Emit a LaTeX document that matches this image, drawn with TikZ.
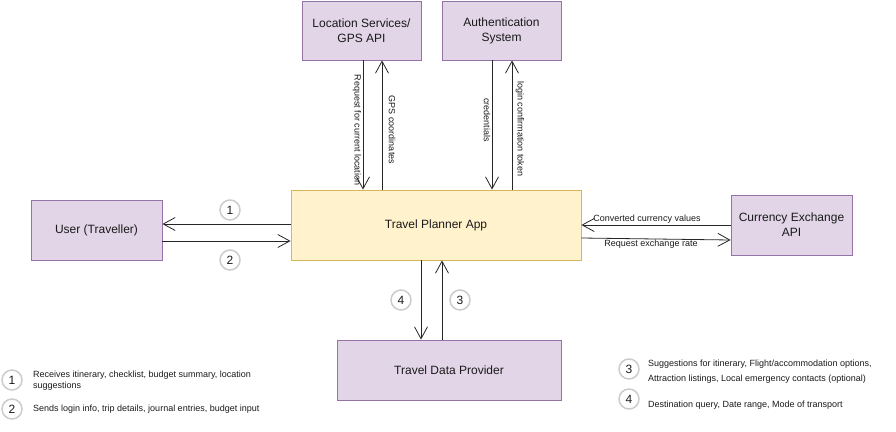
\documentclass[tikz,border=0pt]{standalone}
\usepackage{fontspec}
\setmainfont{Liberation Sans}
\usetikzlibrary{arrows.meta}
\definecolor{pfill}{HTML}{E1D5E7}
\definecolor{pline}{HTML}{9673A6}
\definecolor{yfill}{HTML}{FFF2CC}
\definecolor{yline}{HTML}{D6B656}
\definecolor{cline}{HTML}{CCCCCC}
\definecolor{txt}{HTML}{1A1A1A}
\tikzset{
  pbox/.style={draw=pline, fill=pfill, line width=0.8pt, align=center, font=\fontsize{12}{15}\selectfont, text=txt, inner sep=0pt},
  ybox/.style={draw=yline, fill=yfill, line width=0.8pt, align=center, font=\fontsize{12}{15}\selectfont, text=txt, inner sep=0pt},
  arr/.style={draw=black!85, line width=0.8pt, -{Straight Barb[length=12pt,width=13pt,line width=0.8pt]}},
  lbl/.style={font=\fontsize{9}{11}\selectfont, text=txt, inner sep=1pt},
  num/.style={circle, draw=cline, line width=1.5pt, fill=white, minimum size=20pt, inner sep=0pt, font=\fontsize{12}{12}\selectfont, text=txt},
  legtext/.style={font=\fontsize{9}{11}\selectfont, text=txt, align=left, anchor=west, inner sep=0pt}
}
\begin{document}
\begin{tikzpicture}[x=1pt,y=-1pt]
\useasboundingbox (0,0) rectangle (896,431);
\node[pbox, minimum width=119pt, minimum height=59pt] (loc) at (361.5,30.5) {Location Services/\\GPS API};
\node[pbox, minimum width=119pt, minimum height=59pt] (auth) at (501.5,30.5) {Authentication\\System};
\node[ybox, minimum width=290pt, minimum height=70pt] (app) at (436,225) {Travel Planner App};
\node[pbox, minimum width=131pt, minimum height=60pt] (user) at (96.5,230) {User (Traveller)};
\node[pbox, minimum width=121pt, minimum height=60pt] (cur) at (791.5,225) {Currency Exchange\\API};
\node[pbox, minimum width=224pt, minimum height=60pt] (tdp) at (449,370) {Travel Data Provider};

% location
\draw[arr] ([xshift=1.5pt]loc.south) -- ([xshift=-73pt]app.north);
\draw[arr] ([xshift=-54pt]app.north) -- ([xshift=20.5pt]loc.south);
\node[lbl, rotate=-90] (l1) at (357,130) {Request for current location};
\node[lbl, rotate=-90] (l2) at (392,130) {GPS coordinates};
% auth
\draw[arr] ([xshift=-9.5pt]auth.south) -- ([xshift=56pt]app.north);
\draw[arr] ([xshift=76pt]app.north) -- ([xshift=10.5pt]auth.south);
\node[lbl, rotate=-90] (l3) at (487,120) {credentials};
\node[lbl, rotate=-90] (l4) at (520,129) {login confirmation token};
% user
\draw[arr] ([yshift=1pt]app.west) -- ([yshift=6pt]user.east);
\draw[arr] ([yshift=-11pt]user.east) -- ([yshift=-16pt]app.west);
\node[num] (n1) at (230,210) {1};
\node[num] (n2) at (230,260) {2};
% currency
\draw[arr] (cur.west) -- (app.east);
\draw[arr] ([yshift=-13pt]app.east) -- ([yshift=-15pt]cur.west);
\node[lbl] (l5) at (647,219) {Converted currency values};
\node[lbl] (l6) at (651,244) {Request exchange rate};
% data provider
\draw[arr] ([xshift=-15pt]app.south) -- ([xshift=-28pt]tdp.north);
\draw[arr] ([xshift=-7pt]tdp.north) -- ([xshift=6pt]app.south);
\node[num] (n4) at (401,300) {4};
\node[num] (n3) at (460,300) {3};

% legend
\node[num] (g1) at (12,380) {1};
\node[legtext] (t1) at (33,381) {Receives itinerary, checklist, budget summary, location\\suggestions};
\node[num] (g2) at (12,409) {2};
\node[legtext] (t2) at (33,409) {Sends login info, trip details, journal entries, budget input};
\node[num] (g3) at (629,369) {3};
\node[legtext, font=\fontsize{9}{15}\selectfont] (t3) at (648,371.5) {Suggestions for itinerary, Flight/accommodation options,\\Attraction listings, Local emergency contacts (optional)};
\node[num] (g4) at (629,399) {4};
\node[legtext] (t4) at (648,405) {Destination query, Date range, Mode of transport};
\end{tikzpicture}
\end{document}
